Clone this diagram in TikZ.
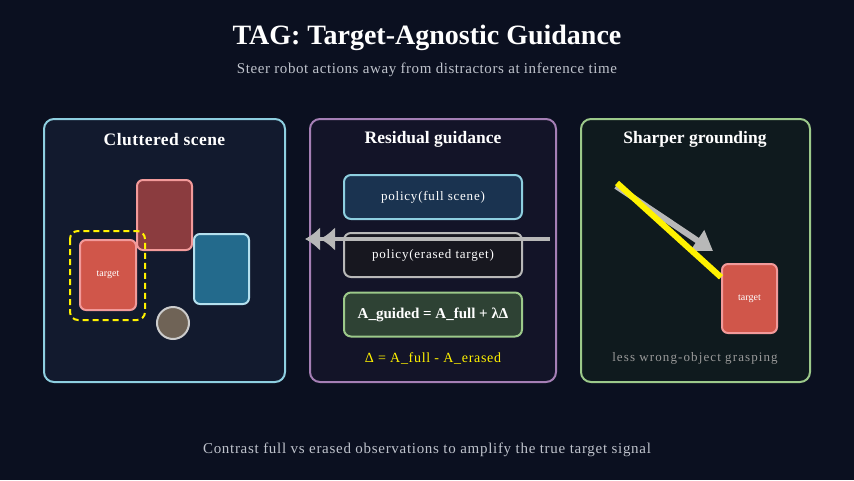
\documentclass[tikz,border=0pt]{standalone}
\usepackage{fontspec}
\setmainfont{Liberation Serif}
\usetikzlibrary{arrows.meta,calc}
\definecolor{bg}{HTML}{0B1020}
\definecolor{panelA}{HTML}{121A2E}
\definecolor{panelB}{HTML}{131428}
\definecolor{panelC}{HTML}{0F1A1E}
\definecolor{cyanS}{HTML}{8ECFE0}
\definecolor{purpS}{HTML}{A57FB5}
\definecolor{grnS}{HTML}{9CC98A}
\definecolor{darkred}{HTML}{8B3C3F}
\definecolor{tred}{HTML}{D0564A}
\definecolor{pinkS}{HTML}{F29A9A}
\definecolor{tblue}{HTML}{236A8C}
\definecolor{lblueS}{HTML}{B4E0EE}
\definecolor{brownF}{HTML}{6F6356}
\definecolor{box1F}{HTML}{1A3350}
\definecolor{box2F}{HTML}{17171F}
\definecolor{box3F}{HTML}{2E4234}
\definecolor{grayS}{HTML}{B8B8B8}
\definecolor{txtG}{HTML}{BFC3CC}
\definecolor{lessG}{HTML}{9A9A9A}
\newcommand{\lsp}[1]{\addfontfeatures{LetterSpace=#1}}
\begin{document}
\begin{tikzpicture}[x=1pt,y=-1pt,
  panel/.style={rounded corners=10pt,line width=2pt},
  obj/.style={rounded corners=6pt,line width=2pt},
  pbox/.style={rounded corners=7pt,line width=2pt,minimum width=178pt,minimum height=44pt,inner sep=0pt,font=\fontsize{13}{15}\selectfont\lsp{6},text=white},
  ptitle/.style={font=\bfseries\fontsize{17.5}{20}\selectfont,text=white},
  tlabel/.style={font=\fontsize{10}{12}\selectfont,text=white}]
\fill[bg] (0,0) rectangle (854,480);
\useasboundingbox (0,0) rectangle (854,480);
\node[font=\bfseries\fontsize{28}{32}\selectfont,text=white] (title) at (427,38) {TAG: Target-Agnostic Guidance};
\node[font=\fontsize{15}{18}\selectfont\lsp{3.8},text=txtG] (sub) at (427,70) {Steer robot actions away from distractors at inference time};
% panels
\draw[panel,draw=cyanS,fill=panelA] (44,119) rectangle (285,382);
\draw[panel,draw=purpS,fill=panelB] (310,119) rectangle (556,382);
\draw[panel,draw=grnS,fill=panelC] (581,119) rectangle (810,382);
\node[ptitle,font=\bfseries\fontsize{17.5}{20}\selectfont\lsp{2.5}] (t1) at (164.5,140) {Cluttered scene};
\node[ptitle] (t2) at (433,139) {Residual guidance};
\node[ptitle] (t3) at (695,139) {Sharper grounding};
% panel 1 objects
\draw[obj,draw=pinkS,fill=darkred] (137,180) rectangle (192,250);
\draw[obj,draw=pinkS,fill=tred] (80,240) rectangle (136,310);
\node[tlabel] (tg1) at (108,275) {target};
\draw[obj,draw=lblueS,fill=tblue] (194,234) rectangle (249,304);
\draw[line width=2pt,draw=gray!40!white,fill=brownF] (173,323) circle (16);
\draw[yellow,line width=2pt,dashed,dash pattern=on 6pt off 4pt,rounded corners=8pt] (70,231) rectangle (145,320);
% panel 2 boxes
\node[pbox,draw=cyanS,fill=box1F] (b1) at (433,197) {policy(full scene)};
\node[pbox,draw=grayS,fill=box2F] (b2) at (433,255) {policy(erased target)};
\node[pbox,draw=grnS,fill=box3F,font=\bfseries\fontsize{15}{17}\selectfont] (b3) at (433,314.5) {A\_guided = A\_full + λΔ};
\node[font=\fontsize{14}{16}\selectfont\lsp{5},text=yellow] (delta) at (433,358) {Δ = A\_full - A\_erased};
\coordinate (aS) at (550,239);
\coordinate (aE) at (305,239);
\draw[grayS,line width=4pt,-{Latex[length=15pt,width=24pt]Latex[length=15pt,width=24pt]}] (aS) -- (aE);
% panel 3
\coordinate (gS) at (616,186);
\coordinate (gE) at (713,251);
\draw[grayS,line width=6pt,-{Triangle[length=19pt,width=24pt]}] (gS) -- (gE);
\node[obj,draw=pinkS,fill=tred,minimum width=55pt,minimum height=69pt,inner sep=0pt,tlabel] (tg2) at (749.5,298.5) {target};
\coordinate (yS) at (617,183);
\draw[yellow,line width=6pt] (yS) -- ($(tg2.north west)!0.2!(tg2.south west)$);
\node[font=\fontsize{13}{15}\selectfont\lsp{8.5},text=lessG] (less) at (695,358) {less wrong-object grasping};
\node[font=\fontsize{15}{18}\selectfont\lsp{4.7},text=txtG] (bottom) at (427,450) {Contrast full vs erased observations to amplify the true target signal};
\end{tikzpicture}
\end{document}
